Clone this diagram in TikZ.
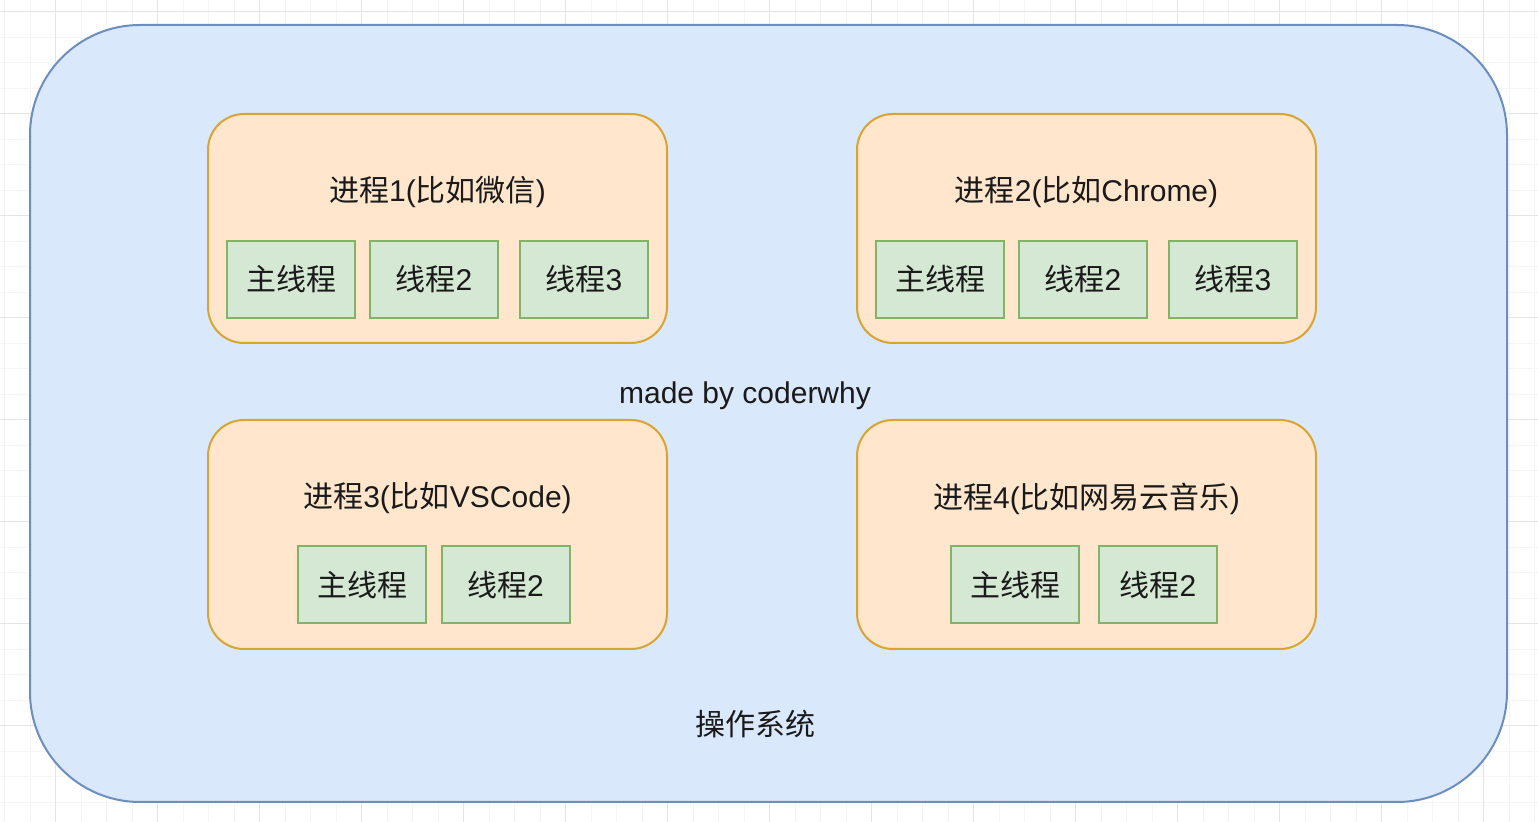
\documentclass[tikz,border=0pt]{standalone}
\usepackage{fontspec}
\setmainfont{Liberation Sans}
\newfontfamily\cjk{Noto Sans CJK SC}
\definecolor{osfill}{HTML}{DAE8FC}
\definecolor{osline}{HTML}{6C8EBF}
\definecolor{procfill}{HTML}{FFE6CC}
\definecolor{procline}{HTML}{D8A532}
\definecolor{thrfill}{HTML}{D5E8D4}
\definecolor{thrline}{HTML}{82B366}
\definecolor{txt}{HTML}{1A1A1A}
\begin{document}
\begin{tikzpicture}[x=0.5pt, y=-0.5pt,
    minorgrid/.style={draw=black!4, line width=0.5pt},
    majorgrid/.style={draw=black!10, line width=0.5pt},
    osbox/.style={draw=osline, fill=osfill, line width=1pt, rounded corners=55pt, inner sep=0pt, minimum width=738.5pt, minimum height=388.5pt},
    procbox/.style={draw=procline, fill=procfill, line width=1pt, rounded corners=18pt, inner sep=0pt, minimum width=229.5pt, minimum height=114.5pt},
    thrbox/.style={draw=thrline, fill=thrfill, line width=1pt, inner sep=0pt, minimum width=64pt, minimum height=38.5pt, text=txt, font=\fontsize{15}{18}\selectfont\cjk},
    lbl/.style={inner sep=0pt, text=txt, font=\fontsize{15}{18}\selectfont}]
  \useasboundingbox[fill=white] (0,0) rectangle (1538,822);
  % background grid
  \foreach \gx in {0,...,60} \draw[minorgrid] ({4.5+25.5*\gx},0) -- ++(0,822);
  \foreach \gy in {0,...,31} \draw[minorgrid] (0,{12+25.5*\gy}) -- ++(1538,0);
  \foreach \gx in {0,...,14} \draw[majorgrid] ({55.5+102*\gx},0) -- ++(0,822);
  \foreach \gy in {0,...,7} \draw[majorgrid] (0,{12+102*\gy}) -- ++(1538,0);
  % operating system
  \node[osbox] (os) at (768.5,413.5) {};
  \node[lbl] (made) at (745,396) {made by coderwhy};
  \node[lbl, font=\fontsize{15}{18}\selectfont\cjk] (oslabel) at (755,724) {操作系统};
  % process 1
  \node[procbox] (proc1) at (437.5,228.5) {};
  \node[lbl] (title1) at (437.5,192.5) {{\cjk 进程}1({\cjk 比如微信})};
  \node[thrbox] (t11) at (291,279.5) {主线程};
  \node[thrbox] (t12) at (434,279.5) {线程{\rmfamily 2}};
  \node[thrbox] (t13) at (584,279.5) {线程{\rmfamily 3}};
  % process 2
  \node[procbox] (proc2) at (1086.5,228.5) {};
  \node[lbl] (title2) at (1086.5,192.5) {{\cjk 进程}2({\cjk 比如}Chrome)};
  \node[thrbox] (t21) at (940,279.5) {主线程};
  \node[thrbox] (t22) at (1083,279.5) {线程{\rmfamily 2}};
  \node[thrbox] (t23) at (1233,279.5) {线程{\rmfamily 3}};
  % process 3
  \node[procbox] (proc3) at (437.5,534.5) {};
  \node[lbl] (title3) at (437.5,498.5) {{\cjk 进程}3({\cjk 比如}VSCode)};
  \node[thrbox] (t31) at (362,585) {主线程};
  \node[thrbox] (t32) at (505.5,585) {线程{\rmfamily 2}};
  % process 4
  \node[procbox] (proc4) at (1086.5,534.5) {};
  \node[lbl] (title4) at (1086.5,498.5) {{\cjk 进程}4({\cjk 比如网易云音乐})};
  \node[thrbox] (t41) at (1015,585) {主线程};
  \node[thrbox, minimum width=59pt] (t42) at (1158,585) {线程{\rmfamily 2}};
\end{tikzpicture}
\end{document}
